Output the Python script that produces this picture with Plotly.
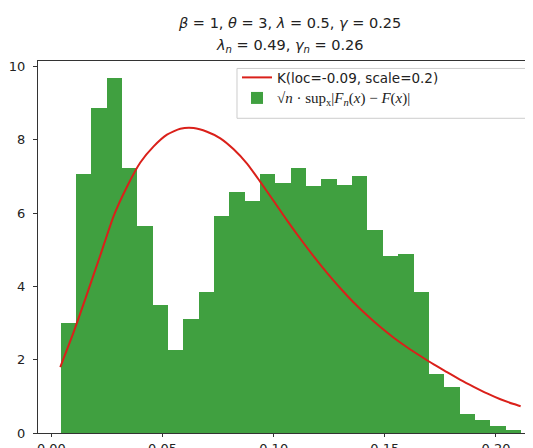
import numpy as np
import plotly.graph_objects as go

# ---- data ----
bin_start = 0.0042
bin_width = 0.0069
bar_heights = [2.99, 7.06, 8.88, 9.69, 7.24, 5.66, 3.49, 2.26, 3.10, 3.85,
               5.92, 6.58, 6.33, 7.08, 6.82, 7.23, 6.75, 6.92, 6.78, 7.02,
               5.55, 4.82, 4.88, 3.84, 1.61, 1.25, 0.53, 0.35, 0.19, 0.09]

curve_x = [0.004, 0.010, 0.016, 0.022, 0.028, 0.034, 0.040, 0.046, 0.052,
           0.058, 0.064, 0.070, 0.076, 0.082, 0.088, 0.094, 0.100, 0.106,
           0.112, 0.118, 0.124, 0.130, 0.136, 0.142, 0.148, 0.154, 0.160,
           0.166, 0.172, 0.178, 0.184, 0.190, 0.196, 0.202, 0.208, 0.2111]
curve_y = [1.80, 2.75, 3.79, 4.85, 5.92, 6.72, 7.38, 7.82, 8.14,
           8.30, 8.32, 8.22, 8.04, 7.74, 7.35, 6.85, 6.33, 5.80,
           5.30, 4.82, 4.37, 3.95, 3.56, 3.21, 2.89, 2.60, 2.34,
           2.10, 1.87, 1.66, 1.45, 1.26, 1.08, 0.92, 0.79, 0.73]

x_ticks = [0.00, 0.05, 0.10, 0.15, 0.20]
y_ticks = [0, 2, 4, 6, 8, 10]

title_line1 = "<i>β</i> = 1, <i>θ</i> = 3, <i>λ</i> = 0.5, <i>γ</i> = 0.25"
title_line2 = "<i>λ<sub>n</sub></i> = 0.49, <i>γ<sub>n</sub></i> = 0.26"
line_name = "K(loc=-0.09, scale=0.2)"
bar_name = ('<span style="font-family:\'Liberation Serif\', serif;font-size:15px">√<i>n</i> · sup<sub>x</sub>'
            '|<i>F<sub>n</sub></i>(<i>x</i>) − <i>F</i>(<i>x</i>)|</span>')

bar_centers = bin_start + bin_width * (np.arange(len(bar_heights)) + 0.5)

fig = go.Figure()
fig.add_trace(go.Scatter(
    x=curve_x, y=curve_y, mode="lines", name=line_name,
    line=dict(color="rgb(218,32,26)", width=2, shape="spline", smoothing=0.6),
))
fig.add_trace(go.Bar(
    x=bar_centers, y=bar_heights, width=bin_width, name=bar_name,
    marker=dict(color="rgb(64,160,64)", line=dict(width=0)),
))

fig.update_layout(
    width=525, height=440,
    margin=dict(l=30, r=0, t=53, b=15, pad=0),
    plot_bgcolor="white", paper_bgcolor="white",
    font=dict(family="DejaVu Sans", size=13, color="#222"),
    bargap=0,
    showlegend=True,
    legend=dict(
        x=0.402, y=0.997, xanchor="left", yanchor="top",
        bgcolor="rgba(0,0,0,0)", borderwidth=0,
        font=dict(family="DejaVu Sans", size=13.5, color="#222"),
        tracegroupgap=0, itemwidth=30,
    ),
    shapes=[
        # legend frame (matplotlib-style, running past the right edge)
        dict(type="rect", xref="paper", yref="paper",
             x0=0.402, x1=1.1, y0=0.846, y1=0.980,
             line=dict(color="#cccccc", width=1),
             fillcolor="rgba(255,255,255,0.8)", layer="above"),
    ],
    annotations=[
        dict(text=title_line1, xref="paper", yref="paper", x=0.509, y=1.102,
             xanchor="center", yanchor="middle", showarrow=False,
             font=dict(family="DejaVu Sans", size=14.5, color="#222")),
        dict(text=title_line2, xref="paper", yref="paper", x=0.509, y=1.039,
             xanchor="center", yanchor="middle", showarrow=False,
             font=dict(family="DejaVu Sans", size=14.5, color="#222")),
    ],
)
fig.update_xaxes(
    range=[-0.00603, 0.21666], tickvals=x_ticks, tickformat=".2f",
    showgrid=False, zeroline=False, showline=True, linecolor="#333", linewidth=1,
    mirror=True, ticks="outside", ticklen=3, tickcolor="#333", automargin=False,
    ticklabelstandoff=0,
)
fig.update_yaxes(
    range=[0, 10.15], tickvals=y_ticks,
    showgrid=False, zeroline=False, showline=True, linecolor="#333", linewidth=1,
    mirror=False, ticks="outside", ticklen=4, tickcolor="#333", automargin=False,
    ticklabelstandoff=5,
)

fig.write_html("out.html")
